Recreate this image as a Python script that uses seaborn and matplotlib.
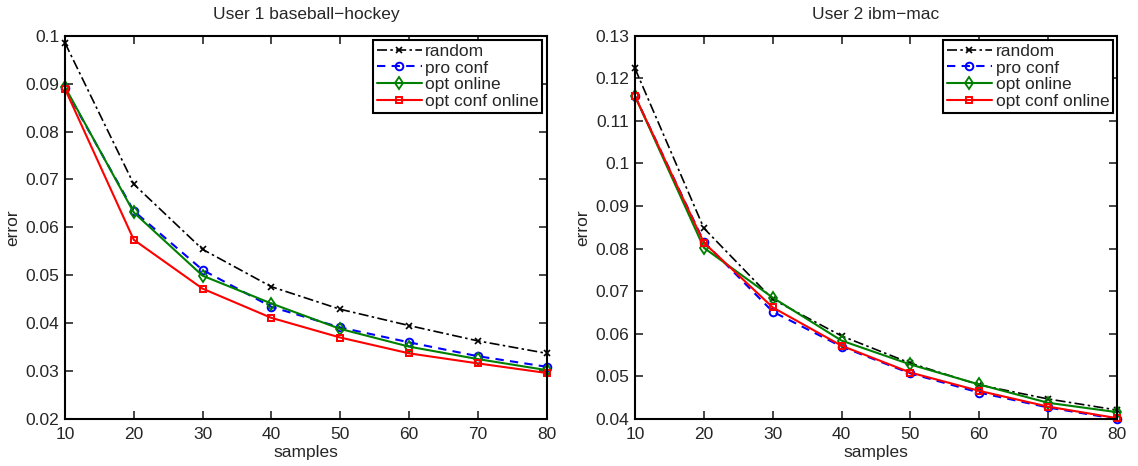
import numpy as np
import pandas as pd
import matplotlib
matplotlib.use("Agg")
import matplotlib.pyplot as plt
import seaborn as sns

samples = [10, 20, 30, 40, 50, 60, 70, 80]
methods = ["random", "pro conf", "opt online", "opt conf online"]

u1_random = [0.0985, 0.0690, 0.0554, 0.0476, 0.0429, 0.0395, 0.0363, 0.0337]
u1_proconf = [0.0890, 0.0634, 0.0511, 0.0434, 0.0391, 0.0360, 0.0331, 0.0309]
u1_optonline = [0.0893, 0.0631, 0.0499, 0.0441, 0.0388, 0.0351, 0.0325, 0.0302]
u1_optconf = [0.0889, 0.0574, 0.0472, 0.0411, 0.0370, 0.0337, 0.0316, 0.0296]

u2_random = [0.1223, 0.0848, 0.0681, 0.0595, 0.0531, 0.0480, 0.0447, 0.0421]
u2_proconf = [0.1158, 0.0816, 0.0652, 0.0570, 0.0507, 0.0462, 0.0427, 0.0400]
u2_optonline = [0.1158, 0.0802, 0.0685, 0.0584, 0.0528, 0.0481, 0.0438, 0.0416]
u2_optconf = [0.1158, 0.0814, 0.0662, 0.0572, 0.0509, 0.0466, 0.0429, 0.0402]

titles = ["User 1 baseball\u2212hockey", "User 2 ibm\u2212mac"]
yticks1 = [0.02, 0.03, 0.04, 0.05, 0.06, 0.07, 0.08, 0.09, 0.1]
yticks2 = [0.04, 0.05, 0.06, 0.07, 0.08, 0.09, 0.1, 0.11, 0.12, 0.13]

sns.set_style("ticks")
plt.rcParams["font.family"] = ["Liberation Sans", "DejaVu Sans"]

styles = {
    "random": dict(color="black", ls=(0, (6, 2, 1.5, 2)), marker="x", ms=4, lw=1.2, mew=1.2, mfc="black"),
    "pro conf": dict(color="blue", ls=(0, (4, 3)), marker="o", ms=5.5, lw=1.5, mfc="none", mew=1.4),
    "opt online": dict(color="#008000", ls="-", marker="d", ms=6.5, lw=1.5, mfc="none", mew=1.3),
    "opt conf online": dict(color="red", ls="-", marker="s", ms=5, lw=1.5, mfc="none", mew=1.4),
}

fig = plt.figure(figsize=(11.38, 4.66), dpi=100)
ax1 = fig.add_axes([0.0571, 0.1009, 0.4233, 0.8225])
ax2 = fig.add_axes([0.5580, 0.1009, 0.4235, 0.8225])

data = [
    [u1_random, u1_proconf, u1_optonline, u1_optconf],
    [u2_random, u2_proconf, u2_optonline, u2_optconf],
]

FS = 12.5
for ax, series, title, yt in zip([ax1, ax2], data, titles, [yticks1, yticks2]):
    handles = []
    for m, vals in zip(methods, series):
        df = pd.DataFrame({"samples": samples, "error": vals})
        n = len(ax.lines)
        sns.lineplot(data=df, x="samples", y="error", ax=ax, legend=False,
                     color=styles[m]["color"])
        line = ax.lines[n]
        st = styles[m]
        line.set_linestyle(st["ls"])
        line.set_linewidth(st["lw"])
        line.set_marker(st["marker"])
        line.set_markersize(st["ms"])
        line.set_markeredgewidth(st["mew"])
        line.set_markeredgecolor(st["color"])
        line.set_markerfacecolor(st["mfc"])
        line.set_label(m)
        line.set_clip_on(False)
        handles.append(line)
    ax.set_xlim(10, 80)
    ax.set_ylim(yt[0], yt[-1])
    ax.set_xticks(samples)
    ax.set_yticks(yt)
    ax.set_yticklabels([("%g" % v) for v in yt])
    ax.tick_params(direction="in", top=True, right=True, length=6, width=1.2,
                   labelsize=FS, pad=4)
    ax.tick_params(axis="x", pad=6)
    for s in ax.spines.values():
        s.set_visible(True)
        s.set_color("black")
        s.set_linewidth(1.5)
    ax.set_title(title, fontsize=FS, pad=12)
    ax.set_xlabel("samples", fontsize=FS, labelpad=2)
    ax.set_ylabel("error", fontsize=FS, labelpad=4)
    leg = ax.legend(handles=handles, labels=methods, loc="upper right", fontsize=FS,
                    frameon=True, fancybox=False, edgecolor="black", framealpha=1,
                    borderaxespad=0.25, handlelength=2.6, handletextpad=0.2,
                    labelspacing=0.1, borderpad=0.2)
    leg.get_frame().set_linewidth(1.5)

fig.savefig("out.png", dpi=100)
